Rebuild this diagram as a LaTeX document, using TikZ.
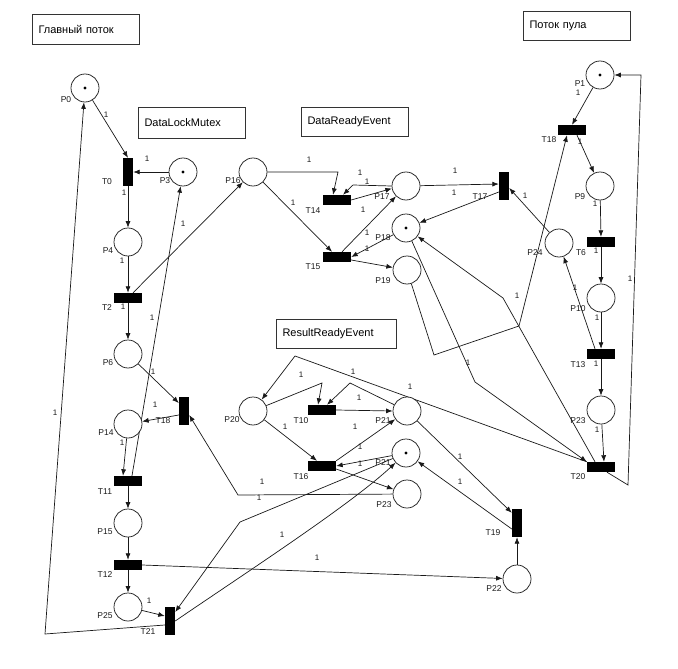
\documentclass[tikz,border=0pt]{standalone}
\usepackage{fontspec}
\setmainfont{Liberation Sans}
\usetikzlibrary{arrows.meta,calc,backgrounds}
\begin{document}
\begin{tikzpicture}[x=1pt,y=-1pt,
  place/.style={circle,draw=black!85,line width=0.75pt,fill=white,minimum size=28pt,inner sep=0pt},
  tv/.style={rectangle,fill=black,minimum width=10pt,minimum height=28pt,inner sep=0pt},
  th/.style={rectangle,fill=black,minimum width=28pt,minimum height=10pt,inner sep=0pt},
  lbl/.style={font=\fontsize{8.5}{9}\selectfont,inner sep=0pt,text=black!90},
  wt/.style={font=\fontsize{8}{9}\selectfont,inner sep=0pt,text=black!90},
  arc/.style={->,draw=black!90,line width=0.7pt},
  >={Latex[length=6.5pt,width=5pt]},
  box/.style={draw=black!80,line width=1pt,inner xsep=6pt,inner ysep=0pt,align=left,anchor=north west,font=\fontsize{11}{13}\selectfont},
]
\useasboundingbox (0,0) rectangle (678,669);

% text boxes
\node[box,text width=95pt,minimum height=30pt] (bx1) at (32,14) {Главный поток};
\node[box,text width=95pt,minimum height=31pt] (bx2) at (138,107) {DataLockMutex};
\node[box,text width=95pt,minimum height=29pt] (bx3) at (301,107) {DataReadyEvent};
\node[box,text width=95pt,minimum height=29pt] (bx4) at (523,11) {Поток пула};
\node[box,text width=108pt,minimum height=29pt] (bx5) at (276,319) {ResultReadyEvent};

% places
\node[place] (P0) at (85,88) {};
\node[place] (P3) at (183,172) {};
\node[place] (P16) at (253,172) {};
\node[place] (P4) at (128,242) {};
\node[place] (P6) at (128,354) {};
\node[place] (P14) at (128,424) {};
\node[place] (P15) at (128,523) {};
\node[place] (P25) at (128,607) {};
\node[place] (P17) at (406,186) {};
\node[place] (P18) at (406,228) {};
\node[place] (P19) at (407,270) {};
\node[place] (P20) at (253,411) {};
\node[place] (P21) at (407,411) {};
\node[place] (P2x) at (406,453) {};
\node[place] (P23m) at (407,494) {};
\node[place] (P22) at (517,579) {};
\node[place] (P1) at (600,75) {};
\node[place] (P9) at (600,186) {};
\node[place] (P24) at (559,243) {};
\node[place] (P10) at (601,298) {};
\node[place] (P23r) at (601,410) {};

% tokens
\fill (P0.center) circle (1.6pt);
\fill (P3.center) circle (1.6pt);
\fill (P18.center) circle (1.6pt);
\fill (P2x.center) circle (1.6pt);
\fill (P1.center) circle (1.6pt);

% transitions
\node[tv] (T0) at (128,172) {};
\node[th] (T2) at (128,298) {};
\node[tv] (T18L) at (184,411) {};
\node[th] (T11) at (128,481) {};
\node[th] (T12) at (128,565) {};
\node[tv] (T21) at (170,621) {};
\node[th] (T14) at (337,200) {};
\node[th] (T15) at (337,257) {};
\node[tv] (T17) at (504,186) {};
\node[th] (T10) at (322,410) {};
\node[th] (T16) at (322,466) {};
\node[tv] (T19) at (517,523) {};
\node[th] (T18R) at (572,130) {};
\node[th] (T6) at (601,242) {};
\node[th] (T13) at (601,354) {};
\node[th] (T20) at (601,467) {};

% bend points
\coordinate (b1) at (45,634);
\coordinate (b2) at (238,495);
\coordinate (b3) at (240,522);
\coordinate (c1) at (250,570);
\coordinate (c2) at (350,505);
\coordinate (b4) at (338,172);
\coordinate (b5) at (353,185);
\coordinate (b6) at (434,355);
\coordinate (b7) at (519,326);
\coordinate (b8) at (628,485);
\coordinate (b9) at (641,75);
\coordinate (b10) at (475,382);
\coordinate (b11) at (503,298);
\coordinate (b12) at (295,356);
\coordinate (b13) at (322,383);
\coordinate (b14) at (350,383);

\begin{pgfonlayer}{background}
\draw[arc] (P0) -- (T0.north);
\draw[arc] (P3) -- (T0.east);
\draw[arc] (T0) -- (P4);
\draw[arc] (P4) -- (T2.north);
\draw[arc] (T2) -- (P6);
\draw[arc] ($(T2.north)+(5,0)$) -- (P16);
\draw[arc] ($(T11.north)+(4,0)$) -- (P3);
\draw[arc] (P6) -- ($(T18L.west)+(0,-8)$);
\draw[arc] ($(T18L.west)+(0,4)$) -- (P14);
\draw[arc] (P23m) -- (b2) -- ($(T18L.east)+(0,4)$);
\draw[arc] (P14) -- ($(T11.north)+(-5,0)$);
\draw[arc] (T11) -- (P15);
\draw[arc] (P15) -- (T12.north);
\draw[arc] (T12) -- (P25);
\draw[arc] (P25) -- ($(T21.west)+(0,-5)$);
\draw[arc] ($(T21.west)+(0,4)$) -- (b1) -- (P0);
\draw[arc] (P2x) -- (b3) -- ($(T21.east)+(0,-9)$);
\draw[arc] (T21.east) .. controls (c1) and (c2) .. (P2x);
\draw[arc] (T12.east) -- (P22);
\draw[arc] (P16.east) -- (b4) -- ($(T14.north)+(-4,0)$);
\draw[arc] (P16) -- ($(T15.north)+(-5,0)$);
\draw[arc] (P17.west) -- (b5) -- ($(T14.north)+(6,0)$);
\draw[arc] (T14.east) -- (P17.190);
\draw[arc] ($(T15.north)+(5,0)$) -- (P17);
\draw[arc] (P18) -- (T15.east);
\draw[arc] ($(T15.east)+(0,3)$) -- (P19);
\draw[arc] (P17) -- ($(T17.west)+(0,-2)$);
\draw[arc] ($(T17.west)+(0,6)$) -- (P18);
\draw[arc] (P24) -- ($(T17.east)+(0,2)$);
\draw[arc] (P19) -- (b6) -- (b7) -- ($(T18R.south)+(-5,0)$);
\draw[arc] (P1) -- (T18R.north);
\draw[arc] ($(T18R.south)+(5,0)$) -- (P9);
\draw[arc] (P9) -- (T6.north);
\draw[arc] (T6) -- (P10);
\draw[arc] (P10) -- (T13.north);
\draw[arc] ($(T13.north)+(-6,0)$) -- (P24);
\draw[arc] (T13) -- (P23r);
\draw[arc] (P23r) -- ($(T20.north)+(3,0)$);
\draw[arc] ($(T20.south)+(6,0)$) -- (b8) -- (b9) -- (P1.east);
\draw[arc] (P18) -- (b10) -- (T20.north west);
\draw[arc] ($(T20.north)+(-6,0)$) -- (b11) -- (P18);
\draw[arc] (T20.north west) -- (b12) -- (P20);
\draw[arc] (P20) -- (b13) -- ($(T10.north)+(-4,0)$);
\draw[arc] (P21) -- (b14) -- ($(T10.north)+(5,0)$);
\draw[arc] (T10.east) -- (P21.west);
\draw[arc] (P20) -- ($(T16.north)+(-5,0)$);
\draw[arc] (T16.north east) -- (P21);
\draw[arc] (P2x) -- (T16.east);
\draw[arc] ($(T16.east)+(0,3)$) -- (P23m);
\draw[arc] (P21) -- ($(T19.north west)+(0,4)$);
\draw[arc] ($(T19.west)+(0,6)$) -- (P2x);
\draw[arc] (P22) -- (T19.south);
\end{pgfonlayer}

% place labels
\node[lbl] (lP0) at (66,100) {P0};
\node[lbl] (lP3) at (165,181) {P3};
\node[lbl] (lP16) at (233,181) {P16};
\node[lbl] (lP4) at (108,251) {P4};
\node[lbl] (lP6) at (108,363) {P6};
\node[lbl] (lP14) at (106,433) {P14};
\node[lbl] (lP15) at (105,532) {P15};
\node[lbl] (lP25) at (105,616) {P25};
\node[lbl] (lP17) at (382,197) {P17};
\node[lbl] (lP18) at (383,238) {P18};
\node[lbl] (lP19) at (383,281) {P19};
\node[lbl] (lP20) at (232,420) {P20};
\node[lbl] (lP21) at (383,421) {P21};
\node[lbl] (lP2x) at (383,463) {P21};
\node[lbl] (lP23m) at (384,505) {P23};
\node[lbl] (lP22) at (494,589) {P22};
\node[lbl] (lP1) at (580,84) {P1};
\node[lbl] (lP9) at (580,197) {P9};
\node[lbl] (lP24) at (535,253) {P24};
\node[lbl] (lP10) at (578,309) {P10};
\node[lbl] (lP23r) at (578,421) {P23};

% transition labels
\node[lbl] (lT0) at (107,182) {T0};
\node[lbl] (lT2) at (107,308) {T2};
\node[lbl] (lT18L) at (163,421) {T18};
\node[lbl] (lT11) at (105,492) {T11};
\node[lbl] (lT12) at (105,575) {T12};
\node[lbl] (lT21) at (148,632) {T21};
\node[lbl] (lT14) at (313,211) {T14};
\node[lbl] (lT15) at (313,267) {T15};
\node[lbl] (lT17) at (480,197) {T17};
\node[lbl] (lT10) at (301,421) {T10};
\node[lbl] (lT16) at (301,477) {T16};
\node[lbl] (lT19) at (493,533) {T19};
\node[lbl] (lT18R) at (549,140) {T18};
\node[lbl] (lT6) at (581,253) {T6};
\node[lbl] (lT13) at (578,365) {T13};
\node[lbl] (lT20) at (578,477) {T20};

% weights
\foreach \n/\x/\y in {1/106/115, 2/147/159, 3/124/193, 4/122/261, 5/123/307, 6/183/224,
  7/152/318, 8/153/372, 9/155/405, 10/122/443, 11/149/601, 12/55/413,
  13/262/482, 14/259/498, 15/282/535, 16/309/160, 17/293/203, 18/360/173,
  19/367/182, 20/363/210, 21/367/233, 22/367/249, 23/455/171, 24/454/193,
  25/525/196, 26/517/296, 27/468/363, 28/630/279, 29/578/93, 30/580/142,
  31/595/204, 32/596/251, 33/597/318, 34/575/288, 35/596/364, 36/597/430,
  37/301/375, 38/359/398, 39/353/372, 40/410/387, 41/285/427, 42/355/427,
  43/360/447, 44/360/464, 45/460/457, 46/460/482, 47/317/558}
  \node[wt] (w\n) at (\x,\y) {1};
\end{tikzpicture}
\end{document}
